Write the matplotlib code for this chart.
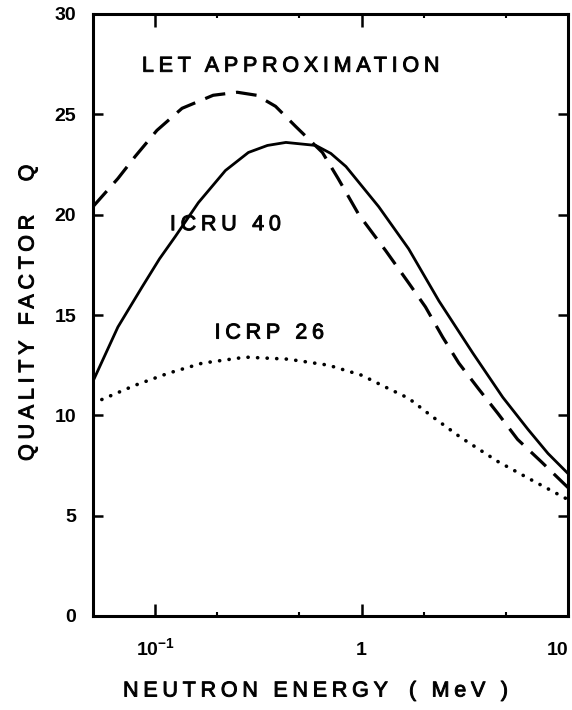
"""
Quality factor Q of neutrons against energy: LET approximation,
ICRU 40 and ICRP 26 curves, drawn like the old typewritten figure.
"""

import numpy as np
import matplotlib
matplotlib.use("Agg")
import matplotlib.pyplot as plt
import matplotlib.patheffects as pe
from matplotlib.path import Path

# values (energy in MeV, Q dimensionless)
energia_let = [0.05, 0.066, 0.080, 0.102, 0.135, 0.191, 0.25, 0.31, 0.383,
               0.479, 0.646, 0.77, 0.97, 1.31, 1.69, 2.04, 2.47, 2.96, 3.7,
               4.57, 5.7, 7.4, 10.0]
q_let = [20.4, 21.8, 22.9, 24.2, 25.3, 25.95, 26.1, 25.95, 25.4,
         24.4, 23.1, 21.8, 20.0, 18.2, 16.6, 15.4, 13.9, 12.6, 11.3,
         10.1, 8.8, 7.7, 6.4]

energia_icru = [0.05, 0.066, 0.0865, 0.105, 0.125, 0.162, 0.219, 0.283, 0.35,
                0.43, 0.6, 0.71, 0.84, 1.21, 1.69, 2.37, 3.46, 4.83, 6.4, 8.0,
                10.0]
q_icru = [11.7, 14.4, 16.4, 17.8, 18.9, 20.6, 22.2, 23.1, 23.45,
          23.6, 23.45, 23.05, 22.4, 20.4, 18.3, 15.7, 13.1, 10.9, 9.3, 8.1,
          7.1]

energia_icrp = [0.05, 0.08, 0.116, 0.169, 0.274, 0.44, 0.69, 1.0, 1.31, 1.69,
                2.16, 3.02, 4.57, 6.6, 10.0]
q_icrp = [10.6, 11.5, 12.1, 12.6, 12.9, 12.8, 12.5, 12.0, 11.4, 10.85,
          10.0, 8.9, 7.7, 6.8, 5.8]

x_ticks = [0.1, 1, 10]
x_tick_labels = [r"$\mathbf{10^{-1}}$", "1", "10"]
x_minor = [0.2, 0.5, 2, 5]
y_ticks = [0, 5, 10, 15, 20, 25, 30]


class Espaciado(pe.AbstractPathEffect):
    """Separa los glifos de un texto (como una maquina de escribir)."""

    def __init__(self, em, grosor=0.0):
        super().__init__()
        self.em = em
        self.grosor = grosor

    def draw_path(self, renderer, gc, tpath, affine, rgbFace=None):
        verts = tpath.vertices.copy()
        codes = tpath.codes
        starts = np.flatnonzero(codes == Path.MOVETO)
        stops = np.append(starts[1:], len(codes))
        partes = []
        for a, b in zip(starts, stops):
            xs = verts[a:b, 0][codes[a:b] != Path.CLOSEPOLY]
            partes.append((xs.min(), xs.max(), a, b))
        partes.sort()
        n = -1
        derecha = -np.inf
        for x0, x1, a, b in partes:
            if (x0 + x1) / 2 > derecha:
                n += 1
                # un hueco ancho es un espacio entre palabras
                if n > 0 and x0 - derecha > 20:
                    n += 1
                derecha = x1
            else:
                derecha = max(derecha, x1)
            verts[a:b, 0] += n * self.em * 100
        verts[:, 0] -= max(n, 0) * self.em * 50
        gc0 = renderer.new_gc()
        gc0.copy_properties(gc)
        gc0.set_linewidth(self.grosor)
        renderer.draw_path(gc0, Path(verts, codes), affine, rgbFace)
        gc0.restore()


plt.rcParams["font.family"] = "Liberation Sans"
plt.rcParams["mathtext.fontset"] = "custom"
plt.rcParams["mathtext.bf"] = "Liberation Sans:bold"
fig = plt.figure(figsize=(5.72, 7.10), dpi=100)
ax = fig.add_axes([93 / 572, 94 / 710, 475 / 572, 602 / 710])

ax.plot(energia_icru, q_icru, color="black", linewidth=2.0,
        solid_capstyle="butt")
ax.plot(energia_let, q_let, color="black", linewidth=2.3,
        linestyle=(0, (6.5, 3.4)))
ax.plot(energia_icrp, q_icrp, color="black", linewidth=2.6,
        linestyle=(0, (0.05, 2.6)), dash_capstyle="round")

ax.set_xscale("log")
ax.set_xlim(0.05, 10)
ax.set_ylim(0, 30)

ax.set_xticks(x_ticks, x_tick_labels, fontsize=14, fontweight="bold",
              va="baseline")
ax.get_xticklabels()[-1].set_horizontalalignment("right")
ax.set_xticks(x_minor, minor=True)
ax.set_xticklabels([], minor=True)
ax.set_yticks(y_ticks, [str(v) for v in y_ticks], fontsize=14,
              fontweight="bold")

ax.tick_params(which="major", direction="in", top=True, right=True,
               length=7, width=1.8, color="black")
ax.tick_params(axis="x", which="major", length=9, pad=28)
ax.tick_params(axis="y", which="major", pad=12)
ax.tick_params(which="minor", direction="in", top=True, right=True,
               length=3, width=1.5)
for spine in ax.spines.values():
    spine.set_linewidth(2.2)

espacio = [Espaciado(0.22, grosor=0.7)]
ax.text(0.452, 27.4, "LET APPROXIMATION", fontsize=15.5, ha="center",
        va="center", path_effects=espacio)
ax.text(0.219, 19.5, "ICRU 40", fontsize=15.5, ha="center", va="center",
        path_effects=espacio)
ax.text(0.357, 14.1, "ICRP 26", fontsize=15.5, ha="center", va="center",
        path_effects=espacio)

fig.text(315 / 572, (710 - 691) / 710, "NEUTRON ENERGY  ( MeV )",
         fontsize=15.5, ha="center", va="center", path_effects=espacio)
fig.text(28 / 572, (710 - 313) / 710, "QUALITY FACTOR    Q", fontsize=15.5,
         ha="center", va="center", rotation=90, path_effects=espacio)

fig.savefig("out.png", dpi=100, facecolor="white")
